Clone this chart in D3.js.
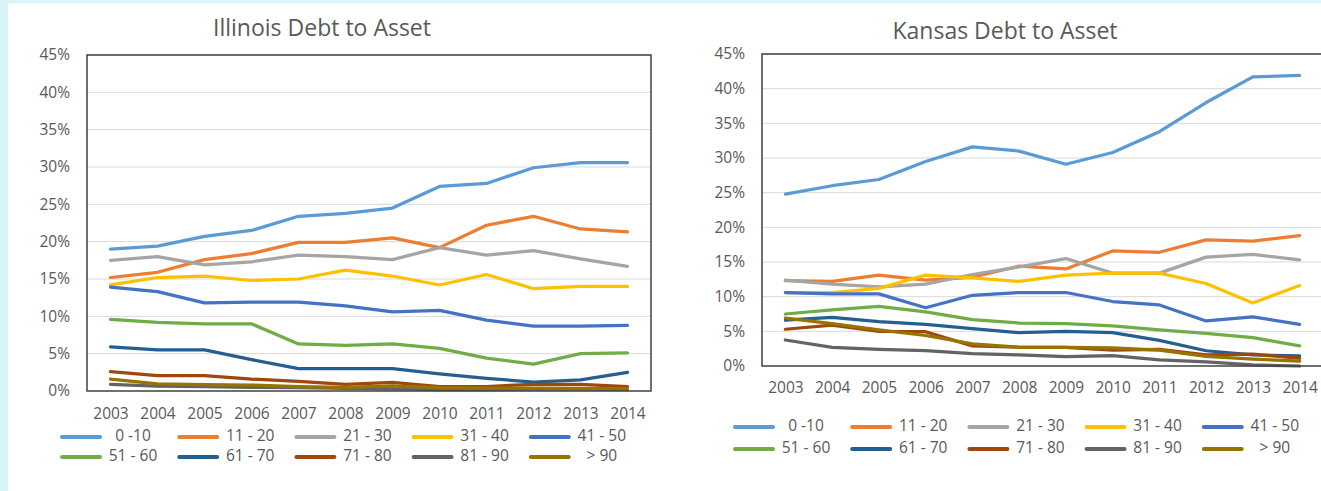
<!DOCTYPE html>
<html>
<head>
<meta charset="utf-8">
<script src="https://cdn.jsdelivr.net/npm/d3@7"></script>
<style>
  body { margin: 0; padding: 0; background: #d7f4f8; }
  svg { display: block; }
  text { font-family: "Open Sans", "Liberation Sans", sans-serif; fill: #595959; }
</style>
</head>
<body>
<script>
// years on the x axis
var years = ["2003","2004","2005","2006","2007","2008","2009","2010","2011","2012","2013","2014"];
// age groups (legend labels)
var groups = ["0 -10","11 - 20","21 - 30","31 - 40","41 - 50","51 - 60","61 - 70","71 - 80","81 - 90","> 90"];
var colors = ["#5b9bd5","#ed7d31","#a5a5a5","#ffc000","#4472c4","#70ad47","#255e91","#9e480e","#636363","#997300"];
var yTicks = [0,5,10,15,20,25,30,35,40,45];

// Illinois, percent
var il_0_10  = [19.0,19.4,20.7,21.5,23.4,23.8,24.5,27.4,27.8,29.9,30.6,30.6];
var il_11_20 = [15.2,15.9,17.6,18.4,19.9,19.9,20.5,19.2,22.2,23.4,21.7,21.3];
var il_21_30 = [17.5,18.0,16.9,17.3,18.2,18.0,17.6,19.2,18.2,18.8,17.7,16.7];
var il_31_40 = [14.2,15.2,15.4,14.8,15.0,16.2,15.4,14.2,15.6,13.7,14.0,14.0];
var il_41_50 = [13.9,13.3,11.8,11.9,11.9,11.4,10.6,10.8,9.5,8.7,8.7,8.8];
var il_51_60 = [9.6,9.2,9.0,9.0,6.3,6.1,6.3,5.7,4.4,3.6,5.0,5.1];
var il_61_70 = [5.9,5.5,5.5,4.2,3.0,3.0,3.0,2.3,1.7,1.2,1.5,2.5];
var il_71_80 = [2.6,2.05,2.05,1.6,1.3,0.9,1.15,0.6,0.6,0.9,0.9,0.6];
var il_81_90 = [0.9,0.65,0.6,0.5,0.45,0.35,0.3,0.2,0.2,0.25,0.3,0.2];
var il_90    = [1.6,0.95,0.85,0.8,0.6,0.5,0.7,0.45,0.4,0.4,0.35,0.3];

// Kansas, percent
var ks_0_10  = [24.8,26.0,26.9,29.5,31.6,31.0,29.1,30.8,33.8,38.0,41.7,41.9];
var ks_11_20 = [12.3,12.2,13.1,12.4,12.8,14.4,14.0,16.6,16.4,18.2,18.0,18.8];
var ks_21_30 = [12.4,11.8,11.4,11.8,13.2,14.3,15.5,13.4,13.4,15.7,16.1,15.3];
var ks_31_40 = [10.6,10.6,11.2,13.1,12.7,12.2,13.1,13.4,13.4,11.9,9.1,11.6];
var ks_41_50 = [10.6,10.4,10.4,8.4,10.2,10.6,10.6,9.3,8.8,6.5,7.1,6.0];
var ks_51_60 = [7.5,8.1,8.6,7.8,6.7,6.2,6.1,5.8,5.2,4.7,4.1,2.9];
var ks_61_70 = [6.6,7.0,6.4,6.0,5.4,4.8,5.0,4.8,3.7,2.2,1.6,1.45];
var ks_71_80 = [5.3,5.9,5.0,4.95,2.9,2.7,2.7,2.3,2.4,1.6,1.7,1.1];
var ks_81_90 = [3.75,2.7,2.4,2.2,1.8,1.6,1.35,1.5,0.9,0.6,0.15,0.0];
var ks_90    = [6.9,6.1,5.2,4.4,3.2,2.7,2.7,2.6,2.3,1.4,1.0,0.7];

var illinois = [il_0_10,il_11_20,il_21_30,il_31_40,il_41_50,il_51_60,il_61_70,il_71_80,il_81_90,il_90];
var kansas = [ks_0_10,ks_11_20,ks_21_30,ks_31_40,ks_41_50,ks_51_60,ks_61_70,ks_71_80,ks_81_90,ks_90];

var W = 1321, H = 491;

var svg = d3.select("body")
  .append("svg")
  .attr("width", W)
  .attr("height", H);

svg.append("rect")
  .attr("x", 0).attr("y", 0)
  .attr("width", W).attr("height", H)
  .attr("fill", "#d7f4f8");

svg.append("rect")
  .attr("x", 8).attr("y", 3)
  .attr("width", W - 8).attr("height", H - 3)
  .attr("fill", "#ffffff");

function drawChart(title, series, box)
{
  var g = svg.append("g");

  var x = d3.scalePoint()
    .domain(years)
    .range([box.left, box.left + box.width])
    .padding(0.5);

  var y = d3.scaleLinear()
    .domain([0, 45])
    .range([box.bottom, box.top]);

  // gridlines
  g.selectAll("line.grid")
    .data(yTicks.slice(1))
    .enter()
    .append("line")
    .attr("class", "grid")
    .attr("x1", box.left)
    .attr("x2", box.left + box.width)
    .attr("y1", function(d) { return y(d); })
    .attr("y2", function(d) { return y(d); })
    .attr("stroke", "#d9d9d9")
    .attr("stroke-width", 1);

  // y axis labels
  var yAxis = d3.axisLeft(y)
    .tickValues(yTicks)
    .tickSize(0)
    .tickPadding(box.yPad)
    .tickFormat(function(d) { return d + "%"; });

  var ya = g.append("g")
    .attr("transform", "translate(" + box.left + ",0)")
    .call(yAxis);
  ya.select(".domain").remove();
  ya.selectAll("text")
    .style("font-size", "15.5px")
    .attr("fill", "#595959");

  // x axis labels
  var xAxis = d3.axisBottom(x)
    .tickSize(0)
    .tickPadding(box.xPad);

  var xa = g.append("g")
    .attr("transform", "translate(0," + box.bottom + ")")
    .call(xAxis);
  xa.select(".domain").remove();
  xa.selectAll("text")
    .style("font-size", "15.5px")
    .attr("fill", "#595959");

  // lines
  var line = d3.line()
    .x(function(d, i) { return x(years[i]); })
    .y(function(d) { return y(d); });

  g.selectAll("path.series")
    .data(series)
    .enter()
    .append("path")
    .attr("class", "series")
    .attr("d", line)
    .attr("fill", "none")
    .attr("stroke", function(d, i) { return colors[i]; })
    .attr("stroke-width", 3.25)
    .attr("stroke-linejoin", "round")
    .attr("stroke-linecap", "round");

  // plot box
  g.append("rect")
    .attr("x", box.left)
    .attr("y", box.top)
    .attr("width", box.width)
    .attr("height", box.bottom - box.top)
    .attr("fill", "none")
    .attr("stroke", "#404040")
    .attr("stroke-width", 1.5);

  // title
  g.append("text")
    .attr("x", box.titleX)
    .attr("y", box.titleY)
    .attr("text-anchor", "middle")
    .attr("dominant-baseline", "middle")
    .style("font-size", "23px")
    .text(title);

  // legend
  var leg = g.selectAll("g.leg")
    .data(groups)
    .enter()
    .append("g")
    .attr("class", "leg")
    .attr("transform", function(d, i) {
      var col = i % 5, row = Math.floor(i / 5);
      return "translate(" + (box.legX + col * 117.2) + "," + box.legRows[row] + ")";
    });

  leg.append("line")
    .attr("x1", 0).attr("x2", 38)
    .attr("y1", 0).attr("y2", 0)
    .attr("stroke", function(d, i) { return colors[i]; })
    .attr("stroke-width", 4)
    .attr("stroke-linecap", "round");

  leg.append("text")
    .attr("x", 71)
    .attr("y", 0)
    .attr("text-anchor", "middle")
    .attr("dominant-baseline", "middle")
    .style("font-size", "15.5px")
    .text(function(d) { return d; });
}

drawChart("Illinois Debt to Asset", illinois, {
  left: 87, width: 564, top: 55, bottom: 391,
  yPad: 17, xPad: 17,
  titleX: 322, titleY: 30,
  legX: 62, legRows: [437, 457]
});

drawChart("Kansas Debt to Asset", kansas, {
  left: 762, width: 561, top: 54, bottom: 366,
  yPad: 17, xPad: 16,
  titleX: 1005, titleY: 33,
  legX: 735, legRows: [427, 449]
});
</script>
</body>
</html>
